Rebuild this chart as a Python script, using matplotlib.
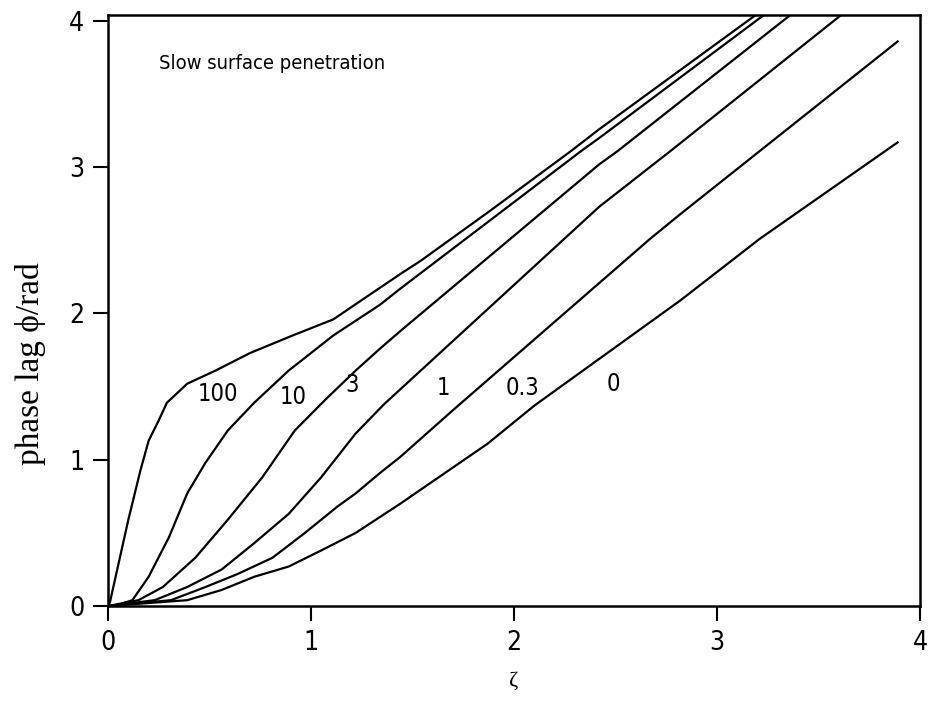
import matplotlib
matplotlib.use("Agg")
import matplotlib.pyplot as plt

# phase lag curves, one per surface penetration parameter
labels = ["100", "10", "3", "1", "0.3", "0"]

x_100 = [0, 0.01, 0.10, 0.16, 0.20, 0.25, 0.29, 0.39, 0.53, 0.70, 0.91, 1.11, 1.28, 1.44, 1.54, 1.88, 2.28, 2.42, 3.20]
y_100 = [0, 0.03, 0.59, 0.93, 1.13, 1.27, 1.39, 1.52, 1.61, 1.73, 1.85, 1.96, 2.12, 2.27, 2.36, 2.70, 3.11, 3.26, 4.05]

x_10 = [0, 0.03, 0.12, 0.20, 0.30, 0.39, 0.48, 0.59, 0.72, 0.89, 1.11, 1.34, 1.44, 2.33, 2.42, 3.24]
y_10 = [0, 0.0, 0.04, 0.20, 0.47, 0.77, 0.98, 1.20, 1.39, 1.61, 1.85, 2.06, 2.17, 3.11, 3.20, 4.05]

x_3 = [0, 0.15, 0.27, 0.43, 0.59, 0.76, 0.92, 1.07, 1.22, 1.34, 1.44, 2.42, 2.51, 3.37]
y_3 = [0, 0.04, 0.13, 0.33, 0.59, 0.88, 1.20, 1.41, 1.61, 1.76, 1.88, 3.02, 3.11, 4.05]

x_1 = [0, 0.23, 0.39, 0.56, 0.72, 0.89, 1.05, 1.22, 1.36, 2.42, 2.77, 3.62]
y_1 = [0, 0.04, 0.13, 0.25, 0.43, 0.63, 0.88, 1.18, 1.38, 2.73, 3.11, 4.05]

x_03 = [0, 0.31, 0.48, 0.64, 0.81, 0.97, 1.13, 1.22, 1.34, 1.44, 1.70, 2.67, 2.82, 3.89]
y_03 = [0, 0.04, 0.13, 0.22, 0.33, 0.50, 0.68, 0.77, 0.91, 1.02, 1.34, 2.51, 2.68, 3.86]

x_0 = [0, 0.39, 0.56, 0.72, 0.89, 1.05, 1.22, 1.44, 1.87, 2.10, 2.82, 3.21, 3.89]
y_0 = [0, 0.04, 0.11, 0.20, 0.27, 0.38, 0.50, 0.70, 1.11, 1.37, 2.09, 2.51, 3.17]

xs = [x_100, x_10, x_3, x_1, x_03, x_0]
ys = [y_100, y_10, y_3, y_1, y_03, y_0]

# where each curve label sits
label_x = [0.54, 0.91, 1.20, 1.65, 2.04, 2.49]
label_y = [1.45, 1.43, 1.51, 1.49, 1.49, 1.52]

xticks = [0, 1, 2, 3, 4]
yticks = [0, 1, 2, 3, 4]

sans = ["DejaVu Sans"]
serif = ["Liberation Serif", "DejaVu Serif"]
narrow = dict(family=sans, stretch="condensed")

fig = plt.figure(figsize=(9.29, 7.06), dpi=100)
ax = fig.add_axes([0.1163, 0.1416, 0.8740, 0.8370])

for x, y in zip(xs, ys):
    ax.plot(x, y, color="black", lw=1.6)

for lab, lx, ly in zip(labels, label_x, label_y):
    ax.text(lx, ly, lab, fontsize=17, ha="center", va="center", **narrow)

ax.text(0.25, 3.71, "Slow surface penetration", fontsize=14.5,
        ha="left", va="center", **narrow)

ax.set_xlim(0, 4)
ax.set_ylim(0, 4.04)
ax.set_xticks(xticks)
ax.set_yticks(yticks)
ax.set_xticklabels([str(t) for t in xticks], fontsize=19, **narrow)
ax.set_yticklabels([str(t) for t in yticks], fontsize=19, **narrow)
ax.tick_params(direction="out", length=11, width=1.5, pad=6)

for sp in ax.spines.values():
    sp.set_linewidth(1.8)

ax.set_ylabel("phase lag \u03d5/rad", family=serif, fontsize=24)
ax.yaxis.set_label_coords(-0.076, 0.41)
ax.set_xlabel("\u03b6", family=serif, fontsize=16, labelpad=12)

fig.savefig("out.png", dpi=100)
